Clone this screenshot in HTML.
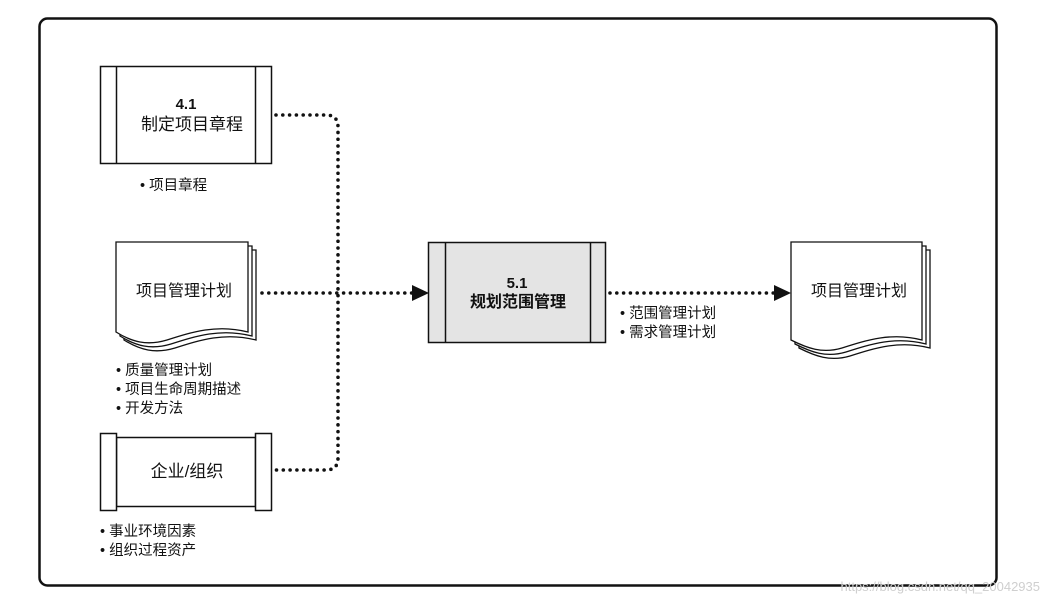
<!DOCTYPE html>
<html><head><meta charset="utf-8"><style>
html,body{margin:0;padding:0;background:#fff;}
svg{display:block;}
text{font-family:"Liberation Sans","Noto Sans CJK SC",sans-serif;fill:#111;}
</style></head><body>
<svg width="1054" height="604" viewBox="0 0 1054 604" xmlns="http://www.w3.org/2000/svg">
<rect x="39.5" y="18.5" width="957" height="567" rx="8" fill="#fff" stroke="#111" stroke-width="2.5"/>

<!-- 4.1 box -->
<g stroke="#111" stroke-width="1.5" fill="#fff">
<rect x="100.5" y="66.5" width="171" height="97"/>
<line x1="116.5" y1="66.5" x2="116.5" y2="163.5"/>
<line x1="255.5" y1="66.5" x2="255.5" y2="163.5"/>
</g>
<text x="186" y="109" font-size="15" font-weight="bold" text-anchor="middle">4.1</text>
<text x="192" y="130" font-size="17" text-anchor="middle">制定项目章程</text>
<text x="140" y="190" font-size="14.5">• 项目章程</text>

<!-- doc 1 -->
<g stroke="#111" stroke-width="1.3" fill="#fff">
<path d="M124 250 L256 250 L256 340 C225 332 200 340 175 348 C155 354 140 350 124 340 Z"/>
<path d="M120 246 L252 246 L252 336 C221 328 196 336 171 344 C151 350 136 346 120 336 Z"/>
<path d="M116 242 L248 242 L248 332 C217 324 192 332 167 340 C147 346 132 342 116 332 Z"/>
</g>
<text x="184" y="296" font-size="16" text-anchor="middle">项目管理计划</text>
<text x="116" y="375" font-size="14.5">• 质量管理计划</text>
<text x="116" y="394" font-size="14.5">• 项目生命周期描述</text>
<text x="116" y="413" font-size="14.5">• 开发方法</text>

<!-- enterprise -->
<g stroke="#111" stroke-width="1.5" fill="#fff">
<rect x="116.5" y="437.5" width="139" height="69"/>
<rect x="100.5" y="433.5" width="16" height="77"/>
<rect x="255.5" y="433.5" width="16" height="77"/>
</g>
<text x="187" y="477" font-size="17" text-anchor="middle">企业/组织</text>
<text x="100" y="536" font-size="14.5">• 事业环境因素</text>
<text x="100" y="555" font-size="14.5">• 组织过程资产</text>

<!-- center -->
<g stroke="#111" stroke-width="1.5" fill="#e4e4e4">
<rect x="428.5" y="242.5" width="177" height="100"/>
<line x1="445.5" y1="242.5" x2="445.5" y2="342.5"/>
<line x1="590.5" y1="242.5" x2="590.5" y2="342.5"/>
</g>
<text x="517" y="288" font-size="15" font-weight="bold" text-anchor="middle">5.1</text>
<text x="518" y="307" font-size="16" font-weight="bold" text-anchor="middle">规划范围管理</text>

<!-- output doc -->
<g stroke="#111" stroke-width="1.3" fill="#fff">
<path d="M799 250 L930 250 L930 348 C900 340 875 348 850 356 C830 362 815 356 799 348 Z"/>
<path d="M795 246 L926 246 L926 344 C896 336 871 344 846 352 C826 358 811 352 795 344 Z"/>
<path d="M791 242 L922 242 L922 340 C892 332 867 340 842 348 C822 354 807 348 791 340 Z"/>
</g>
<text x="859" y="296" font-size="16" text-anchor="middle">项目管理计划</text>
<text x="620" y="318" font-size="14.5">• 范围管理计划</text>
<text x="620" y="337" font-size="14.5">• 需求管理计划</text>

<!-- connectors -->
<g fill="none" stroke="#111" stroke-width="3.6" stroke-linecap="round" stroke-dasharray="0 6.8">
<path d="M276 115 L326 115 Q338 115 338 127 L338 458 Q338 470 326 470 L276 470"/>
<path d="M262 293 L412 293"/>
<path d="M610 293 L774 293"/>
</g>
<polygon points="412,285 429,293 412,301" fill="#111"/>
<polygon points="774,285 791,293 774,301" fill="#111"/>

<text x="1040" y="591" font-size="13" style="fill:#cfcfcf" text-anchor="end">https://blog.csdn.net/qq_20042935</text>
</svg>
</body></html>
